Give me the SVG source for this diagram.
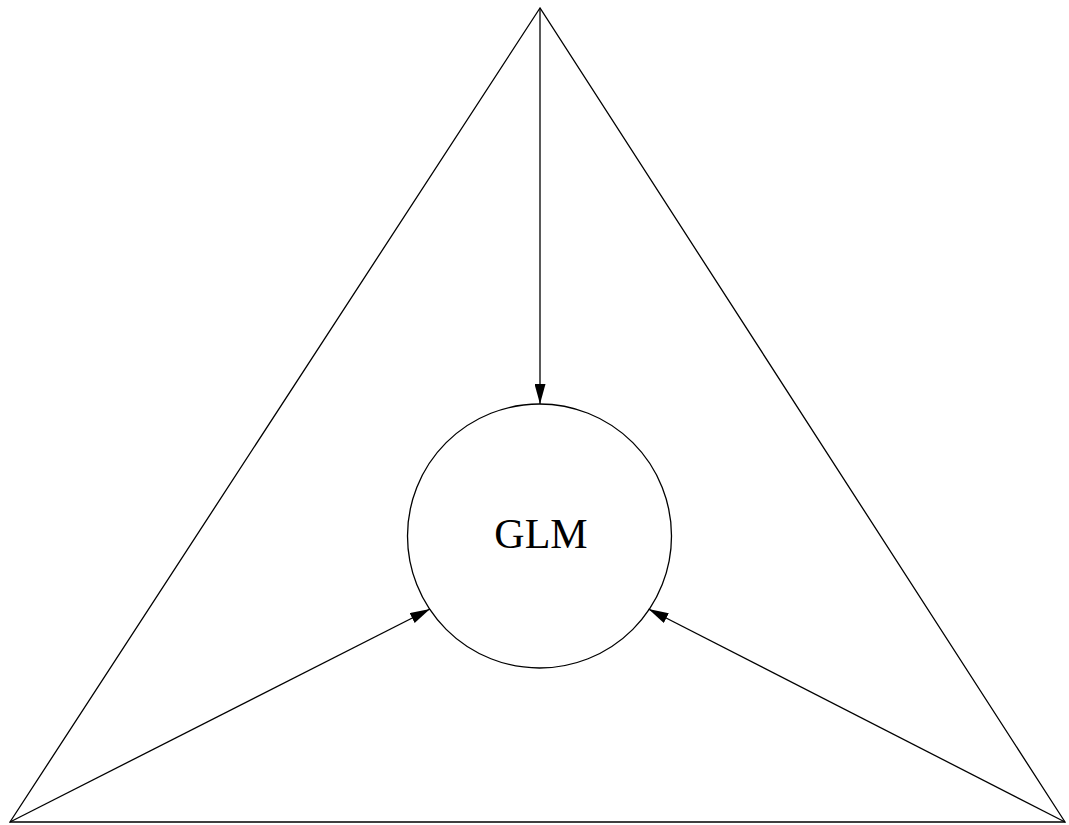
<svg xmlns="http://www.w3.org/2000/svg" width="1069" height="825" viewBox="0 0 1069 825">
<defs>
<marker id="ah" viewBox="0 0 20 11" refX="20" refY="5.5" markerWidth="20" markerHeight="11" markerUnits="userSpaceOnUse" orient="auto">
<path d="M0,0 L20,5.5 L0,11 Z" fill="#000"/>
</marker>
<style>
.ln{fill:none;stroke:#000;stroke-width:1.3}
.lbl{font-family:"Liberation Serif","Times New Roman",serif;font-size:42px;fill:#000}
</style>
</defs>
<rect width="1069" height="825" fill="#fff"/>
<g id="triangle">
<path class="ln" d="M540,8 L10,822 L1065,822 Z"/>
</g>
<g id="glm">
<circle class="ln" cx="539.5" cy="536" r="132"/>
<text class="lbl" x="541" y="548" text-anchor="middle">GLM</text>
</g>
<g id="connectors">
<line class="ln" x1="540" y1="8" x2="540" y2="404" marker-end="url(#ah)"/>
<line class="ln" x1="10" y1="822" x2="430" y2="609" marker-end="url(#ah)"/>
<line class="ln" x1="1065" y1="822" x2="648.5" y2="609" marker-end="url(#ah)"/>
</g>
</svg>
